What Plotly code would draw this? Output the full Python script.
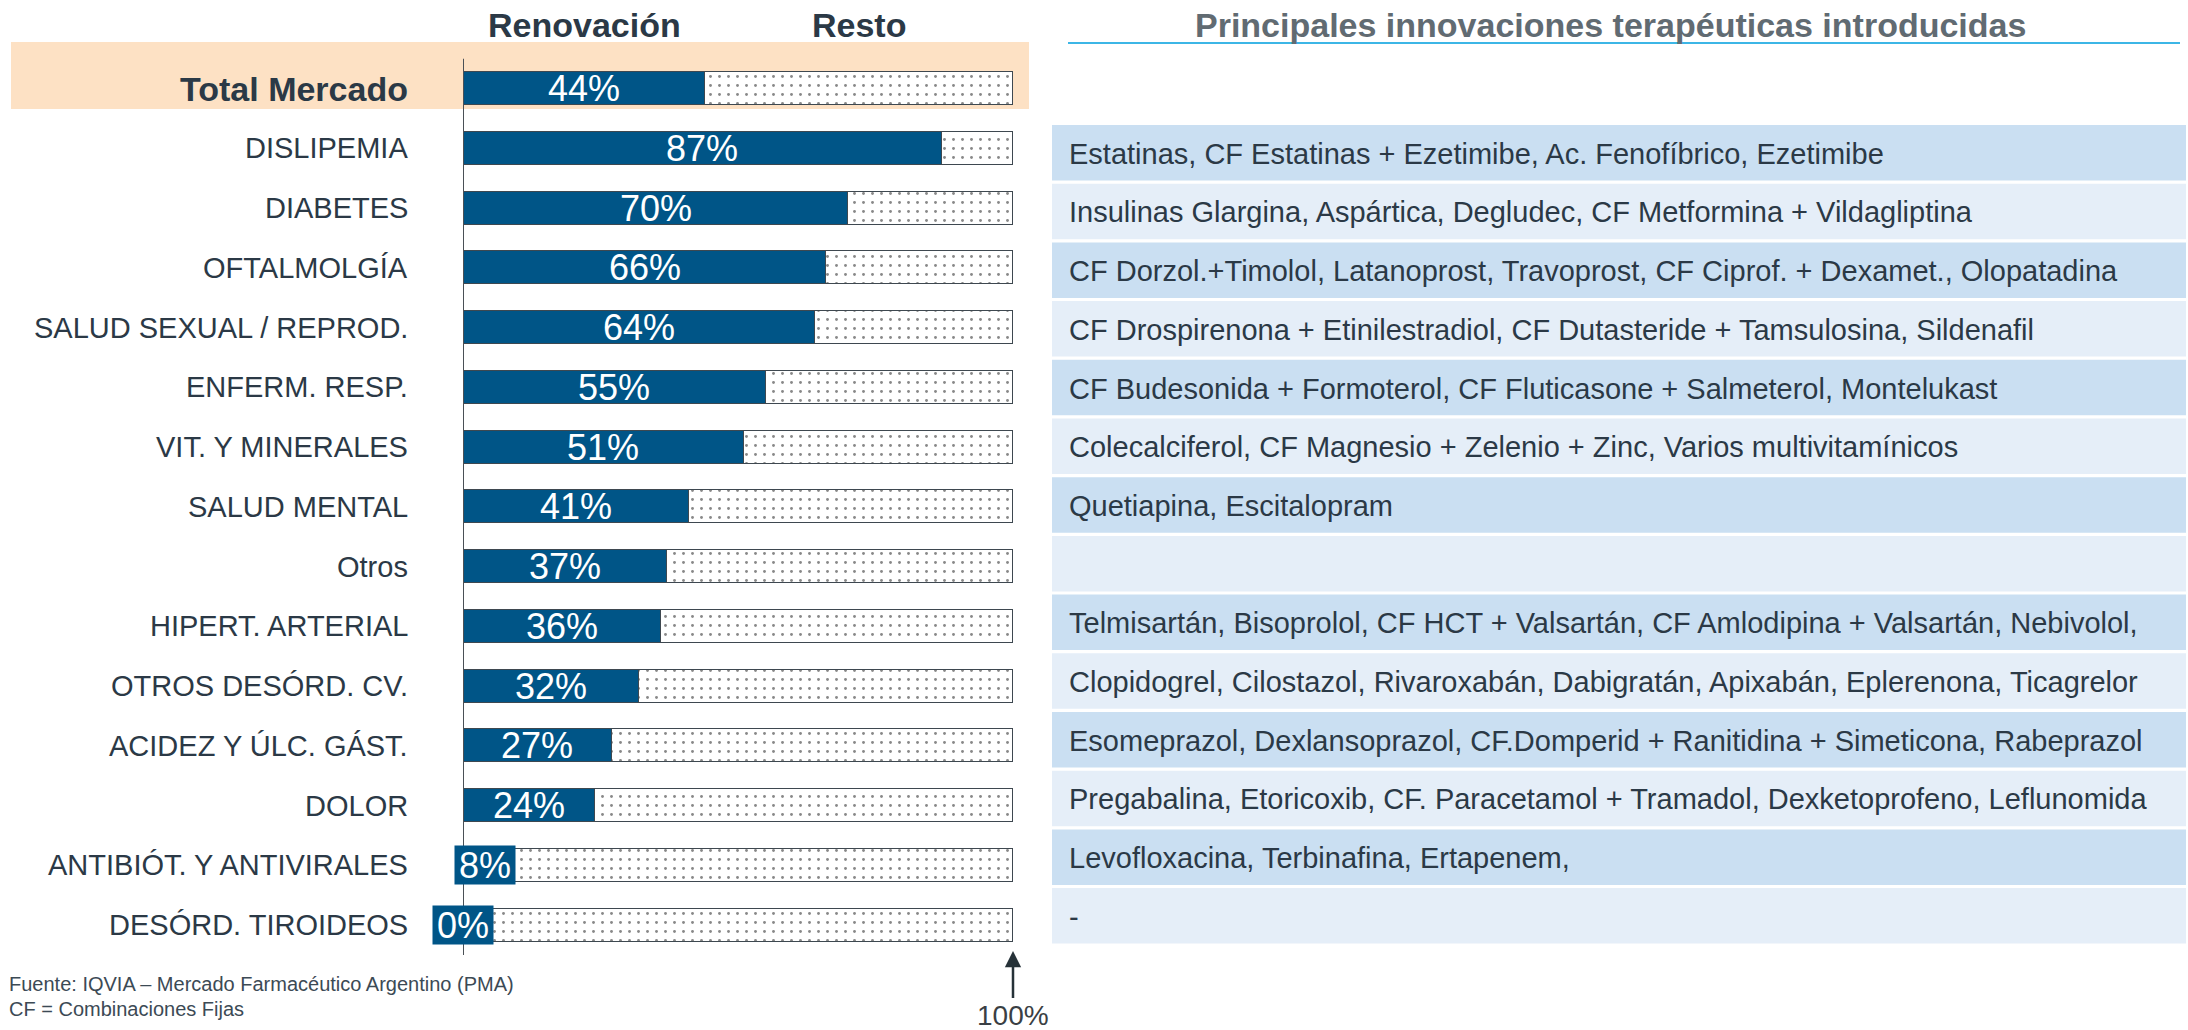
import plotly.graph_objects as go

# ---------------- data ----------------
categories = ["Total Mercado", "DISLIPEMIA", "DIABETES", "OFTALMOLGÍA",
              "SALUD SEXUAL / REPROD.", "ENFERM. RESP.", "VIT. Y MINERALES",
              "SALUD MENTAL", "Otros", "HIPERT. ARTERIAL", "OTROS DESÓRD. CV.",
              "ACIDEZ Y ÚLC. GÁST.", "DOLOR", "ANTIBIÓT. Y ANTIVIRALES",
              "DESÓRD. TIROIDEOS"]
renovacion = [44, 87, 70, 66, 64, 55, 51, 41, 37, 36, 32, 27, 24, 8, 0]
total = [100] * len(categories)
resto = [t - r for t, r in zip(total, renovacion)]

innovaciones = [
    "Estatinas, CF Estatinas + Ezetimibe, Ac. Fenofíbrico, Ezetimibe",
    "Insulinas Glargina, Aspártica, Degludec, CF Metformina + Vildagliptina",
    "CF Dorzol.+Timolol, Latanoprost, Travoprost, CF Ciprof. + Dexamet., Olopatadina",
    "CF Drospirenona + Etinilestradiol, CF Dutasteride + Tamsulosina, Sildenafil",
    "CF Budesonida + Formoterol, CF Fluticasone + Salmeterol, Montelukast",
    "Colecalciferol, CF Magnesio + Zelenio + Zinc, Varios multivitamínicos",
    "Quetiapina, Escitalopram",
    "",
    "Telmisartán, Bisoprolol, CF HCT + Valsartán, CF Amlodipina + Valsartán, Nebivolol,",
    "Clopidogrel, Cilostazol, Rivaroxabán, Dabigratán, Apixabán, Eplerenona, Ticagrelor",
    "Esomeprazol, Dexlansoprazol, CF.Domperid + Ranitidina + Simeticona, Rabeprazol",
    "Pregabalina, Etoricoxib, CF. Paracetamol + Tramadol, Dexketoprofeno, Leflunomida",
    "Levofloxacina, Terbinafina, Ertapenem,",
    "-",
]

header_left = ["Renovación", "Resto"]
header_right = "Principales innovaciones terapéuticas introducidas"
footnote = ["Fuente: IQVIA – Mercado Farmacéutico Argentino (PMA)",
            "CF = Combinaciones Fijas"]

# ---------------- layout constants ----------------
W, H = 2188, 1030
FONT = "Liberation Sans, Arial, sans-serif"
BLUE = "#005587"
TEXT = "#2b3946"
X0_PX, X1_PX = 463, 1013          # 0% and 100% positions
ROW0_PX, PITCH = 88.5, 59.75      # bar row centres
BAR_PX = 33

def py(px):
    return 1 - px / H

def px_x(px):
    return px / W

y_top = -ROW0_PX / PITCH
y_bot = (H - ROW0_PX) / PITCH

fig = go.Figure()
fig.add_trace(go.Bar(
    y=categories, x=renovacion, orientation="h", name=header_left[0],
    width=BAR_PX / PITCH,
    marker=dict(color=BLUE, line=dict(color="#3e4850", width=1.5)),
    hoverinfo="skip"))
fig.add_trace(go.Bar(
    y=categories, x=resto, orientation="h", name=header_left[1],
    width=BAR_PX / PITCH,
    marker=dict(color="white", line=dict(color="#3e4850", width=1.5),
                pattern=dict(shape=".", fgcolor="#111111", bgcolor="white",
                             size=9, solidity=0.08)),
    hoverinfo="skip"))

shapes = []
# highlighted band for Total Mercado
shapes.append(dict(type="rect", xref="paper", yref="paper",
                   x0=px_x(11), x1=px_x(1029), y0=py(109), y1=py(42),
                   fillcolor="#fde1c4", line=dict(width=0), layer="below"))
# vertical axis line
shapes.append(dict(type="line", xref="x", yref="y", x0=0, x1=0,
                   y0=-0.5, y1=len(categories) - 0.5,
                   line=dict(color="#4a5056", width=2), layer="above"))
# right header underline
shapes.append(dict(type="line", xref="paper", yref="paper",
                   x0=px_x(1068), x1=px_x(2180), y0=py(43), y1=py(43),
                   line=dict(color="#3cb6e6", width=2)))

annotations = []
# left category labels
for i, c in enumerate(categories):
    if i == 0:
        txt = "<b>%s</b>" % c
        f = dict(family=FONT, size=34, color=TEXT)
    else:
        txt = c
        f = dict(family=FONT, size=29, color=TEXT)
    annotations.append(dict(xref="paper", yref="y", x=px_x(410), y=c,
                            text=txt, showarrow=False, xanchor="right",
                            yanchor="middle", font=f))

# value labels
plot_w = X1_PX - X0_PX
for c, v in zip(categories, renovacion):
    a = dict(xref="x", yref="y", x=v / 2, y=c, text="%d%%" % v,
             showarrow=False, xanchor="center", yanchor="middle",
             font=dict(family=FONT, size=36, color="white"))
    if v / 100 * plot_w < 60:
        a.update(bgcolor=BLUE, width=60, height=38, borderpad=0)
    annotations.append(a)

# column headers
annotations.append(dict(xref="x", yref="paper", x=renovacion[0] / 2, y=py(25),
                        text="<b>%s</b>" % header_left[0], showarrow=False,
                        xanchor="center", yanchor="middle",
                        font=dict(family=FONT, size=34, color=TEXT)))
annotations.append(dict(xref="x", yref="paper", x=renovacion[0] + resto[0] / 2,
                        y=py(25), text="<b>%s</b>" % header_left[1],
                        showarrow=False, xanchor="center", yanchor="middle",
                        font=dict(family=FONT, size=34, color=TEXT)))
annotations.append(dict(xref="paper", yref="paper", x=px_x(1610), y=py(25),
                        text="<b>%s</b>" % header_right, showarrow=False,
                        xanchor="center", yanchor="middle",
                        font=dict(family=FONT, size=34, color="#616b72")))

# table
T_TOP, T_PITCH, T_H = 125, 58.7, 55.5
for k, txt in enumerate(innovaciones):
    top = T_TOP + k * T_PITCH
    shapes.append(dict(type="rect", xref="paper", yref="paper",
                       x0=px_x(1052), x1=px_x(2186), y0=py(top + T_H), y1=py(top),
                       fillcolor="#cadff2" if k % 2 == 0 else "#e5eef8",
                       line=dict(width=0), layer="below"))
    if txt:
        annotations.append(dict(xref="paper", yref="paper", x=px_x(1067),
                                y=py(top + T_H / 2 + 1), text=txt, showarrow=False,
                                xanchor="left", yanchor="middle",
                                font=dict(family=FONT, size=29, color=TEXT)))

# footnote
for j, t in enumerate(footnote):
    annotations.append(dict(xref="paper", yref="paper", x=px_x(7),
                            y=py(984 + 25 * j), text=t, showarrow=False,
                            xanchor="left", yanchor="middle",
                            font=dict(family=FONT, size=20, color="#3c4a55")))

# 100% arrow
annotations.append(dict(xref="x", yref="paper", x=100, y=py(951), ax=0, ay=64,
                        text="100%", showarrow=True, arrowhead=2, arrowsize=1.3,
                        arrowwidth=2.5, arrowcolor="#263238", standoff=0,
                        xanchor="center", yanchor="middle",
                        font=dict(family=FONT, size=28, color="#3a3f44")))

fig.update_layout(
    width=W, height=H, margin=dict(l=0, r=0, t=0, b=0),
    paper_bgcolor="white", plot_bgcolor="rgba(0,0,0,0)",
    barmode="stack", bargap=0, showlegend=False,
    xaxis=dict(domain=[px_x(X0_PX), px_x(X1_PX)], range=[0, 100], visible=False,
               fixedrange=True),
    yaxis=dict(domain=[0, 1], range=[y_bot, y_top], visible=False,
               categoryorder="array", categoryarray=categories, fixedrange=True),
    shapes=shapes, annotations=annotations,
)

fig.write_html("out.html", config={"displayModeBar": False},
               post_script="document.body.style.margin='0';"
                           "document.body.style.overflow='hidden';")
